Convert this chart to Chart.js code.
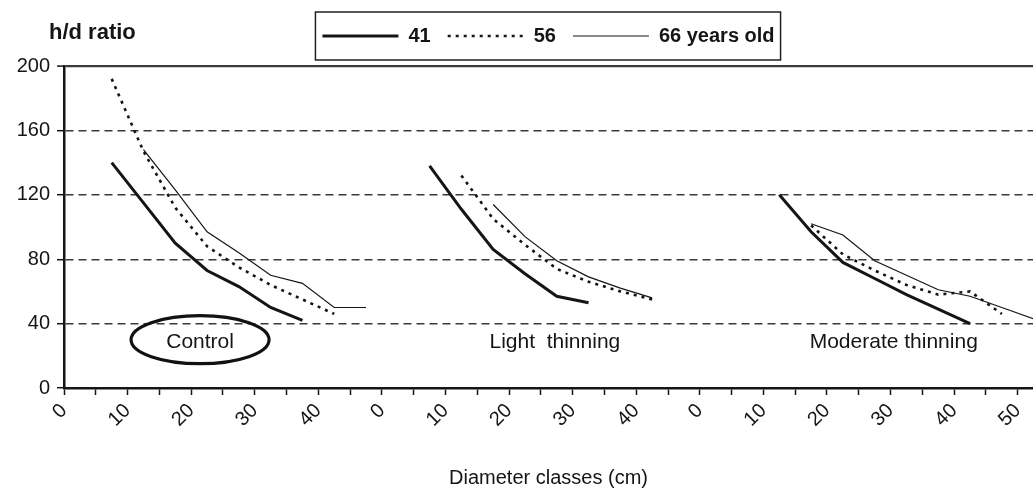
<!DOCTYPE html>
<html>
<head>
<meta charset="utf-8">
<script src="https://cdn.jsdelivr.net/npm/chart.js@4.4.1/dist/chart.umd.min.js"></script>
<style>
  html, body { margin: 0; padding: 0; background: #fff; overflow: hidden; }
  #wrap { width: 1033px; height: 492px; }
</style>
</head>
<body>
<div id="wrap"><canvas id="hdChart"></canvas></div>
<script>
// Diameter class mid points (cm) and panel layout on the shared x axis
const classMid = [7.5, 12.5, 17.5, 22.5, 27.5, 32.5, 37.5, 42.5, 47.5, 52.5];
const panelStart = [0, 50, 100];
const panelNames = ['Control', 'Light  thinning', 'Moderate thinning'];
const xTickText = ['0', '10', '20', '30', '40', '0', '10', '20', '30', '40', '0', '10', '20', '30', '40', '50'];
const ageLabels = ['41', '56', '66 years old'];

// h/d ratio, one value per diameter class (null = no trees)
const control41 = [140, 115, 90, 73, 63, 50, 42, null, null, null];
const control56 = [192, 147, 112, 88, 75, 64, 55, 46, null, null];
const control66 = [null, 148, 123, 97, 84, 70, 65, 50, 50, null];

const light41 = [138, 111, 86, 71, 57, 53, null, null, null, null];
const light56 = [null, 132, 105, 89, 74, 66, 60, 55, null, null];
const light66 = [null, null, 114, 94, 79, 69, 62, 56, null, null];

const moderate41 = [null, 120, 97, 78, 68, 58, 49, 40, null, null];
const moderate56 = [null, null, 101, 83, 73, 64, 58, 60, 46, null];
const moderate66 = [null, null, 102, 95, 79, 70, 61, 57, 50, 43];

// panel label anchor (data units) - position only
const panelLabelX = [21.4, 77.2, 130.5];
const panelLabelY = 28.5;

// Joins the three panels into one series, broken between panels
function buildSeries(panels) {
    const pts = [];
    panels.forEach((vals, p) => {
        vals.forEach((v, i) => pts.push({ x: panelStart[p] + classMid[i], y: v }));
        pts.push({ x: panelStart[p] + 50, y: null });
    });
    return pts;
}

const ink = '#151515';
const fontFam = '"Liberation Sans", Arial, sans-serif';

// Extra drawing: legend frame, y title, panel names, ellipse round "Control"
const annotate = {
    id: 'annotate',
    afterDraw(chart) {
        const { ctx, scales: { x, y } } = chart;
        const lg = chart.legend;
        ctx.save();

        // frame round the legend items
        const boxes = lg.legendHitBoxes;
        if (boxes && boxes.length) {
            const left = Math.min(...boxes.map(b => b.left)) - 7;
            const right = Math.max(...boxes.map(b => b.left + b.width)) + 6;
            ctx.strokeStyle = '#222';
            ctx.lineWidth = 1.5;
            ctx.strokeRect(left, lg.top + 3, right - left, 48);
        }

        // y axis title, horizontal at top left
        ctx.fillStyle = ink;
        ctx.font = 'bold 22px ' + fontFam;
        ctx.textAlign = 'left';
        ctx.textBaseline = 'alphabetic';
        ctx.fillText('h/d ratio', 49, 39);

        // panel names
        ctx.font = '21px ' + fontFam;
        ctx.textAlign = 'center';
        ctx.textBaseline = 'middle';
        panelNames.forEach((name, i) => {
            ctx.fillText(name, x.getPixelForValue(panelLabelX[i]), y.getPixelForValue(panelLabelY));
        });

        // ellipse round the control label
        ctx.beginPath();
        ctx.lineWidth = 3.2;
        ctx.strokeStyle = '#111';
        ctx.ellipse(x.getPixelForValue(panelLabelX[0]), y.getPixelForValue(panelLabelY + 1.5), 69, 24, 0, 0, Math.PI * 2);
        ctx.stroke();
        ctx.restore();
    }
};

const ctx = document.getElementById('hdChart').getContext('2d');
const hdChart = new Chart(ctx, {
    type: 'line',
    data: {
        datasets: [{
            label: ageLabels[0],
            data: buildSeries([control41, light41, moderate41]),
            xAxisID: 'x',
            borderColor: ink,
            borderWidth: 3,
            pointRadius: 0
        }, {
            label: ageLabels[1],
            data: buildSeries([control56, light56, moderate56]),
            xAxisID: 'x',
            borderColor: ink,
            borderWidth: 2.6,
            borderDash: [3, 5],
            pointRadius: 0
        }, {
            label: ageLabels[2],
            data: buildSeries([control66, light66, moderate66]),
            xAxisID: 'x',
            borderColor: ink,
            borderWidth: 1.2,
            pointRadius: 0
        }]
    },
    options: {
        responsive: true,
        maintainAspectRatio: false,
        animation: false,
        spanGaps: false,
        layout: { padding: { top: 9, left: 0, right: 0, bottom: 0 } },
        plugins: {
            tooltip: { enabled: false },
            legend: {
                position: 'top',
                fullSize: false,
                labels: {
                    usePointStyle: true,
                    pointStyle: 'line',
                    pointStyleWidth: 76,
                    padding: 17,
                    color: ink,
                    font: { family: fontFam, size: 20, weight: 'bold' },
                    // point style labels lose the dash, put it back
                    generateLabels: chart => {
                        const items = Chart.defaults.plugins.legend.labels.generateLabels(chart);
                        items.forEach(it => {
                            const ds = chart.data.datasets[it.datasetIndex];
                            it.lineDash = ds.borderDash || [];
                            it.lineWidth = ds.borderWidth;
                        });
                        return items;
                    }
                }
            }
        },
        scales: {
            x: {
                type: 'linear',
                min: 0,
                max: 152.4,
                afterFit: s => { s.height = 104; s.paddingRight = 0; },
                ticks: {
                    stepSize: 5,
                    includeBounds: false,
                    autoSkip: false,
                    minRotation: 45,
                    maxRotation: 45,
                    padding: 4,
                    color: ink,
                    font: { family: fontFam, size: 20 },
                    callback: v => (v % 10 === 0 ? xTickText[v / 10] : '')
                },
                grid: {
                    drawOnChartArea: false,
                    drawTicks: true,
                    tickLength: 7,
                    tickColor: ink,
                    tickWidth: 1.5
                },
                border: { color: ink, width: 2.5 },
                title: {
                    display: true,
                    text: 'Diameter classes (cm)',
                    color: ink,
                    padding: { top: 0, bottom: 2 },
                    font: { family: fontFam, size: 20 }
                }
            },
            // empty spacer between legend and plot
            gap: {
                type: 'linear',
                position: 'top',
                afterFit: s => { s.height = 10; },
                ticks: { display: false },
                grid: { display: false, drawTicks: false },
                border: { display: false }
            },
            y: {
                min: 0,
                max: 200,
                afterFit: s => { s.width = 64; },
                ticks: {
                    stepSize: 40,
                    padding: 7,
                    color: ink,
                    font: { family: fontFam, size: 20 }
                },
                grid: {
                    color: '#3a3a3a',
                    lineWidth: c => (c.tick && c.tick.value === 200 ? 2.2 : 1.4),
                    tickLength: 7,
                    tickColor: ink,
                    tickWidth: 1.5,
                    tickBorderDash: []
                },
                border: {
                    color: ink,
                    width: 2.5,
                    dash: c => (c.tick && c.tick.value > 0 && c.tick.value < 200 ? [8, 5] : [])
                }
            }
        }
    },
    plugins: [annotate]
});
</script>
</body>
</html>
